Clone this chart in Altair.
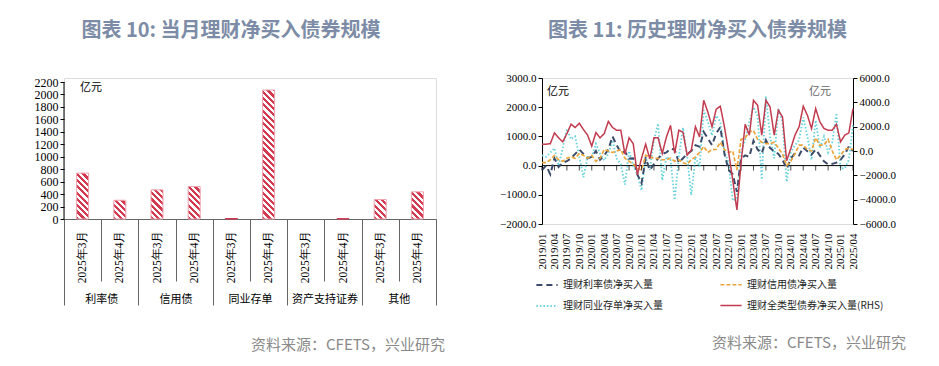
import altair as alt
import pandas as pd
import numpy as np

CJK = "Noto Sans CJK SC"
SERIF = "Liberation Serif"

# ---------------- left panel data ----------------
GROUPS = ["利率债", "信用债", "同业存单", "资产支持证券", "其他"]
MONTHS = ["2025年3月", "2025年4月"]
MAR_VALUES = [737, 468, 8, 0, 312]
APR_VALUES = [301, 522, 2071, 6, 436]
LEFT_Y_TICKS = list(range(0, 2201, 200))

# ---------------- right panel data ----------------
MONTH_LABELS = [f"{y}/{m:02d}" for y in range(2019, 2026) for m in range(1, 13)][:76]
QUARTER_LABELS = MONTH_LABELS[::3]

RATE = [-150, 0, -300, 250, -50, 100, 150, 250, 400, 550, 400, 250,
        300, 500, 200, 350, 550, 1000, 700, 450, 480, 240, 250, -300,
        -600, 250, -150, 50, 250, 400, 450, 580, 550, 100, 250, 400,
        500, 700, 650, 1150, 930, 700, 1100, 1320, 400, -150, -300, -900,
        240, 350, 300, 850, 550, 420, 870, 600, 490, 400, 200, -100,
        240, 420, 350, 620, 490, 380, 550, 350, 150, 40, 60, 100,
        200, 380, 660, 500]
CREDIT = [100, 100, 200, 350, 200, 150, 250, 300, 250, 420, 350, 250,
          350, 150, 250, 550, 500, 450, 500, 550, 250, 150, 50, -100,
          -150, 350, 300, 250, 250, 200, 200, 250, 150, 200, 100, 50,
          200, 300, 450, 650, 450, 550, 550, 800, 550, 450, 500, -150,
          900, 950, 1150, 1200, 900, 800, 750, 750, 800, 600, 400, 0,
          150, 400, 700, 700, 550, 500, 950, 700, 700, 900, 500, 200,
          350, 550, 600, 550]
NCD = [350, 300, 450, 600, 0, 600, 1250, 900, 1000, 300, -400, 300,
       300, 750, 410, 180, 410, 870, 250, 50, -650, 500, 0, -300,
       -850, 300, -150, 870, 1440, -500, 300, 200, -1180, 300, 1300, 300,
       -1010, 300, -40, 1900, 1500, 1030, 1710, 1500, 460, 100, -1200, -1130,
       460, 870, 1500, 2000, 1700, -480, 2370, 1000, 250, 1960, 1500, -555,
       460, 700, 870, 1650, 1000, 200, 1550, 600, 1000, 450, 800, 1800,
       -100, -100, 200, 1400]
TOTAL = [560, 560, 600, 1490, 1080, 750, 1430, 2200, 1930, 2280, 1760, 1300,
         400, 1520, 1080, 1430, 2430, 1930, 1710, 1710, -250, 1080, 600, -1950,
         -600, 560, -650, 1080, 1080, -200, 1150, 2100, -200, 1710, 1550, -340,
         70, 1990, 1150, 4170, 3200, 1990, 3430, 3680, 1990, -70, -2390, -4850,
         -1000, 2200, 1300, 4170, 3760, 1300, 4170, 3620, 1300, 3350, 2800, -800,
         210, 1300, 1990, 3680, 2940, 1850, 3490, 2400, 1850, 1710, 1710, 2200,
         750, 1300, 1490, 3490]
S_RATE, S_CREDIT, S_NCD, S_TOTAL = ("理财利率债净买入量", "理财信用债净买入量",
                                    "理财同业存单净买入量", "理财全类型债券净买入量(RHS)")
# legend fills column by column: this order gives rows (利率债, 信用债) / (同业存单, 全类型)
SERIES = [S_RATE, S_NCD, S_CREDIT, S_TOTAL]
COLORS = ["#3d4b6b", "#66d3dc", "#eba43a", "#c23b4e"]
DASHES = [[6, 4], [1.5, 2], [4, 2], [1, 0]]
WIDTHS = [2, 1.5, 2, 2]
LEFT_AXIS_TICKS = [-2000, -1000, 0, 1000, 2000, 3000]
RIGHT_AXIS_TICKS = [-6000, -4000, -2000, 0, 2000, 4000, 6000]

# ---------------- style ----------------
LW = 372
PX_PER_UNIT = 137 / 2200
LH = 141
Y_MAX = LH / PX_PER_UNIT
RW, RH = 311, 146
BAR_W = 12
RED = "#d23a52"
PINK = "#efa3ad"
TITLE_COLOR = "#7d8ca6"
SRC_COLOR = "#8a8a8a"


def hatch(v):
    h = v * PX_PER_UNIT
    w = BAR_W
    L = w + h
    k = L * w / (w * w + h * h)
    P, frac = 6.3, 0.5
    n = int(np.ceil(L / P)) + 1
    stops = []
    for i in range(n):
        a, b, c = [min(1.0, (i + f) * P / L) for f in (0, frac, 1)]
        stops += [alt.GradientStop(offset=a, color=RED), alt.GradientStop(offset=b, color=RED),
                  alt.GradientStop(offset=b, color="white"), alt.GradientStop(offset=c, color="white")]
    return alt.LinearGradient(gradient="linear", stops=stops, x1=0, y1=1, x2=k, y2=1 - k * h / w)


rows = []
for g, m3, m4 in zip(GROUPS, MAR_VALUES, APR_VALUES):
    rows.append({"key": f"{g}|{MONTHS[0]}", "group": g, "value": m3})
    rows.append({"key": f"{g}|{MONTHS[1]}", "group": g, "value": m4})
df_left = pd.DataFrame(rows)
keys = list(df_left["key"])

x_key = alt.X("key:N", sort=keys,
              scale=alt.Scale(domain=keys, paddingInner=0, paddingOuter=0),
              axis=alt.Axis(title=None, labelAngle=270, labelExpr="split(datum.label, '|')[1]",
                            tickBand="extent", tickSize=62, tickColor="#666", domainColor="#666",
                            labelPadding=-51, labelFont=SERIF, labelFontSize=11.5, labelColor="black"))
left_scale = alt.Scale(domain=[0, Y_MAX], nice=False)
left_axis = alt.Axis(values=LEFT_Y_TICKS, format="d", title=None, grid=False, tickSize=4,
                     labelFont=SERIF, labelFontSize=12, labelColor="black", domain=False,
                     tickColor="black", labelPadding=2, labelOverlap=False)
y_left = alt.Y("value:Q", scale=left_scale, axis=left_axis)

bar_layers = []
for r in rows:
    v = r["value"]
    if v <= 0:
        continue
    if v >= 50:
        mk = alt.Chart().mark_bar(size=BAR_W, fill=hatch(v), stroke=PINK, strokeWidth=1)
    else:
        mk = alt.Chart().mark_bar(size=BAR_W, fill=RED, stroke=RED, strokeWidth=1)
    bar_layers.append(mk.encode(x=x_key, y=y_left).transform_filter(alt.datum.key == r["key"]))

y_axis_line = alt.Chart(pd.DataFrame({"a": [0]})).mark_rule(color="black", strokeWidth=1).encode(
    x=alt.value(0),
    y=alt.YDatum(0, scale=left_scale, axis=left_axis),
    y2=alt.Y2Datum(LEFT_Y_TICKS[-1]),
)

unit_left = alt.Chart(pd.DataFrame({"t": ["亿元"]})).mark_text(
    font=CJK, fontSize=11, align="left", baseline="middle", color="black"
).encode(text="t:N", x=alt.value(16), y=alt.value(10))

group_layer = alt.Chart().mark_rule(strokeOpacity=0).encode(
    x=alt.X("group:N", scale=alt.Scale(domain=GROUPS, paddingInner=0, paddingOuter=0),
            axis=alt.Axis(orient="bottom", title=None, labelAngle=0, tickBand="extent", tickSize=86,
                          tickColor="#666", domain=False, labelPadding=-12, labelFont=CJK,
                          labelFontSize=11, labelColor="black"))
)

left_inner = alt.layer(alt.layer(*bar_layers, y_axis_line, unit_left), group_layer, data=df_left).resolve_scale(
    x="independent"
).properties(width=LW, height=LH,
             title=alt.TitleParams("图表 10: 当月理财净买入债券规模", font=CJK, fontSize=20,
                                   fontWeight="bold", color=TITLE_COLOR, offset=35, dx=-19))

left_panel = alt.vconcat(left_inner).properties(
    title=alt.TitleParams("资料来源：CFETS，兴业研究", orient="bottom", anchor="end", font=CJK,
                          fontSize=15, fontWeight="normal", color=SRC_COLOR, offset=32, dx=8)
)

# ---------------- right panel ----------------
df_r = pd.DataFrame({
    "m": MONTH_LABELS * 3,
    "v": NCD + RATE + CREDIT,
    "s": [S_NCD] * 76 + [S_RATE] * 76 + [S_CREDIT] * 76,
})
df_t = pd.DataFrame({"m": MONTH_LABELS, "v": TOTAL, "s": [S_TOTAL] * 76})
df_q = pd.DataFrame({"m": QUARTER_LABELS})

xr = alt.X("m:O", sort=MONTH_LABELS, scale=alt.Scale(type="point", domain=MONTH_LABELS, padding=0),
           axis=alt.Axis(values=QUARTER_LABELS, labelAngle=270, title=None, domain=False, ticks=False,
                         labelPadding=9, labelFont=SERIF, labelFontSize=11, labelColor="black"))
yl_scale = alt.Scale(domain=[-2000, 3000], nice=False)
yl_axis = alt.Axis(values=LEFT_AXIS_TICKS, format=".1f", title=None, grid=False, tickSize=4,
                   labelFont=SERIF, labelFontSize=11, labelColor="black", domainColor="black",
                   tickColor="black", labelPadding=2, labelOverlap=False)
yl = alt.Y("v:Q", scale=yl_scale, axis=yl_axis)
yr = alt.Y("v:Q", scale=alt.Scale(domain=[-6000, 6000], nice=False),
           axis=alt.Axis(orient="right", values=RIGHT_AXIS_TICKS, format=".1f", title=None, grid=False,
                         tickSize=4, labelFont=SERIF, labelFontSize=11, labelColor="black",
                         domainColor="black", tickColor="black", labelPadding=2, labelOverlap=False))

LEG = alt.Legend(title=None, orient="none", legendX=471, legendY=195, columns=2, columnPadding=54,
                 rowPadding=4, symbolType="stroke", symbolSize=450, symbolStrokeWidth=2,
                 labelFont=CJK, labelFontSize=10, labelColor="#222", labelLimit=0)
color = alt.Color("s:N", scale=alt.Scale(domain=SERIES, range=COLORS), legend=LEG)
dash = alt.StrokeDash("s:N", scale=alt.Scale(domain=SERIES, range=DASHES), legend=LEG)
swidth = alt.StrokeWidth("s:N", scale=alt.Scale(domain=SERIES, range=WIDTHS), legend=None)

zero = alt.Chart(pd.DataFrame({"z": [0]})).mark_rule(color="black", strokeWidth=1).encode(
    y=alt.YDatum(0, scale=yl_scale, axis=yl_axis))
qticks = alt.Chart(df_q).mark_tick(orient="vertical", size=5, thickness=1, color="black",
                                   yOffset=2.5).encode(x=xr, y=alt.YDatum(0, scale=yl_scale, axis=yl_axis))
lines_l = alt.Chart(df_r).mark_line().encode(x=xr, y=yl, color=color, strokeDash=dash, strokeWidth=swidth)
unit_r1 = alt.Chart(pd.DataFrame({"t": ["亿元"]})).mark_text(
    font=CJK, fontSize=11, align="left", baseline="middle", color="black"
).encode(text="t:N", x=alt.value(5), y=alt.value(14))
unit_r2 = alt.Chart(pd.DataFrame({"t": ["亿元"]})).mark_text(
    font=CJK, fontSize=11, align="left", baseline="middle", color="#666"
).encode(text="t:N", x=alt.value(267), y=alt.value(14))

line_t = alt.Chart(df_t).mark_line().encode(x=xr, y=yr, color=color, strokeDash=dash, strokeWidth=swidth)

right_inner = alt.layer(alt.layer(zero, lines_l, qticks, unit_r1, unit_r2), line_t).resolve_scale(
    y="independent"
).properties(width=RW, height=RH,
             title=alt.TitleParams("图表 11: 历史理财净买入债券规模", font=CJK, fontSize=20,
                                   fontWeight="bold", color=TITLE_COLOR, offset=31))

right_panel = alt.vconcat(right_inner).properties(
    title=alt.TitleParams("资料来源：CFETS，兴业研究", orient="bottom", anchor="end", font=CJK,
                          fontSize=15, fontWeight="normal", color=SRC_COLOR, offset=66, dx=10)
)

chart = alt.hconcat(left_panel, right_panel, spacing=54).properties(
    padding={"left": 25, "top": 12, "right": 5, "bottom": 5}
).configure_view(stroke=None).configure(background="white")

chart.save("out.html", embed_options={"renderer": "svg", "actions": False})
